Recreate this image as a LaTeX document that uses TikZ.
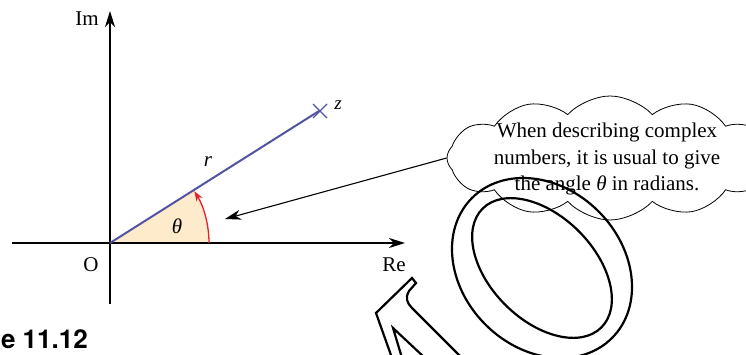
\documentclass[tikz,border=0pt]{standalone}
\usepackage{fontspec}
\setmainfont{Liberation Serif}
\newfontfamily\figfont{TeX Gyre Heros}
\usetikzlibrary{arrows.meta,shapes.symbols}
\definecolor{zblue}{HTML}{5353A3}
\definecolor{angred}{HTML}{E8202A}
\definecolor{sectfill}{HTML}{FDEBCB}
\tikzset{
  axis/.style={line width=1.8pt, -{Stealth[length=16pt,width=10pt,inset=5pt]}},
  radius line/.style={zblue, line width=2pt},
  anglearc/.style={angred, line width=1.3pt, -{Stealth[length=10pt,width=7pt,inset=3pt]}},
  callout/.style={line width=1.1pt, -{Stealth[length=16pt,width=10pt,inset=5pt]}},
  lbl/.style={font=\fontsize{21}{24}\selectfont, inner sep=0pt},
  note/.style={font=\fontsize{21}{26.5}\selectfont, align=center, inner sep=0pt},
  outl/.style={line width=2.2pt, line join=miter},
}
\begin{document}
\begin{tikzpicture}[x=1pt,y=-1pt]
\useasboundingbox (0,0) rectangle (746,355);
\coordinate (O) at (110,243);
\coordinate (Z) at (319,111);
\coordinate (tgt) at (225,219);
% sector
\fill[sectfill] (O) -- (209,243) arc[start angle=0,end angle=32.34,radius=99pt] -- cycle;
% axes
\draw[axis] (12,243) -- (405,243);
\draw[axis] (110,304) -- (110,11);
% radius line and point
\draw[radius line] (O) -- (Z);
\draw[zblue, line width=1.4pt] (313,104) -- (327,118) (313,118) -- (327,104);
% angle arc
\draw[anglearc] (209,243) arc[start angle=0,end angle=31.6,radius=99pt];
% labels
\node[lbl] (im) at (87,19) {Im};
\node[lbl] (re) at (394,265) {Re};
\node[lbl] (o) at (91,265) {O};
\node[lbl] (rl) at (208,162) {\itshape r};
\node[lbl] (th) at (177,226) {\itshape θ};
\node[lbl, font=\fontsize{19}{20}\selectfont] (zl) at (338,105) {\itshape z};
% cloud
\node[cloud, draw, line width=0.8pt, cloud puffs=12, cloud puff arc=95, aspect=2.6,
      shape border rotate=15,
      minimum width=326pt, minimum height=124pt, inner sep=0pt] (cloud) at (610,158) {};
\node[note] (notetext) at (607,159) {When describing complex\\numbers, it is usual to give\\the angle \textit{θ} in radians.};
\draw[callout] (cloud.west) -- (tgt);
% figure label
\node[anchor=base east, inner sep=0pt, font=\figfont\bfseries\fontsize{26}{28}\selectfont] (fig) at (88,348) {e 11.12};
% outline shapes
\draw[outl, rotate around={-45:(542,268)}] (542,268) ellipse [x radius=99pt, y radius=80pt];
\draw[outl, rotate around={-45:(542,268)}] (542,268) ellipse [x radius=84pt, y radius=52pt];
\draw[outl] (392,358) -- (376,313) -- (412,278) -- (416,283) -- (409,291)
  .. controls (405,298) and (407,303) .. (412,308) -- (462,358);
\draw[outl] (402,358) -- (393,328) -- (425,358);
\end{tikzpicture}
\end{document}
